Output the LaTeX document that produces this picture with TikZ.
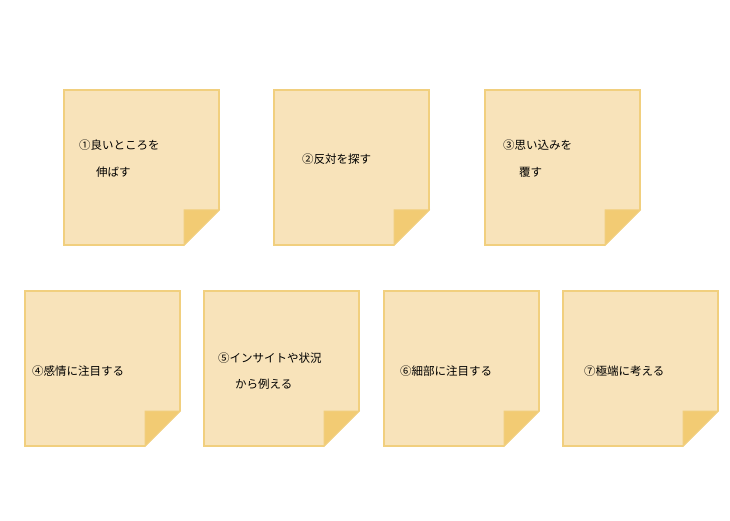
\documentclass[tikz,border=0pt]{standalone}
\usepackage{fontspec}
\setmainfont{Noto Sans CJK JP}
\definecolor{nfill}{HTML}{F8E3BA}
\definecolor{nline}{HTML}{F1CF7E}
\definecolor{nfold}{HTML}{F2CB73}
\tikzset{lbl/.style={font=\fontsize{11.5pt}{14pt}\selectfont, inner sep=0pt, anchor=west}}
\newcommand{\stickynote}[3]{%
  \path[fill=nfill, draw=nline, line width=1.6pt] (#1,#2) coordinate (#3)
    -- ++(155,0) -- ++(0,120) -- ++(-35,35) -- ++(-120,0) -- cycle;
  \path[fill=nfold, draw=nline, line width=1pt] (#1+120,#2+120) -- ++(35,0) -- ++(-35,35) -- cycle;}
\begin{document}
\begin{tikzpicture}[x=1pt,y=-1pt]
\useasboundingbox (0,0) rectangle (730,521);
\stickynote{64}{90}{n1}
\stickynote{274}{90}{n2}
\stickynote{485}{90}{n3}
\stickynote{25}{291}{n4}
\stickynote{204}{291}{n5}
\stickynote{384}{291}{n6}
\stickynote{563}{291}{n7}
\node[lbl] (t1a) at (79,145) {①良いところを};
\node[lbl] (t1b) at (96,172) {伸ばす};
\node[lbl] (t2) at (302,159) {②反対を探す};
\node[lbl] (t3a) at (503,145) {③思い込みを};
\node[lbl] (t3b) at (519,172) {覆す};
\node[lbl] (t4) at (32,371) {④感情に注目する};
\node[lbl] (t5a) at (218,358) {⑤インサイトや状況};
\node[lbl] (t5b) at (235,384) {から例える};
\node[lbl] (t6) at (400,371) {⑥細部に注目する};
\node[lbl] (t7) at (584,371) {⑦極端に考える};
\end{tikzpicture}
\end{document}
